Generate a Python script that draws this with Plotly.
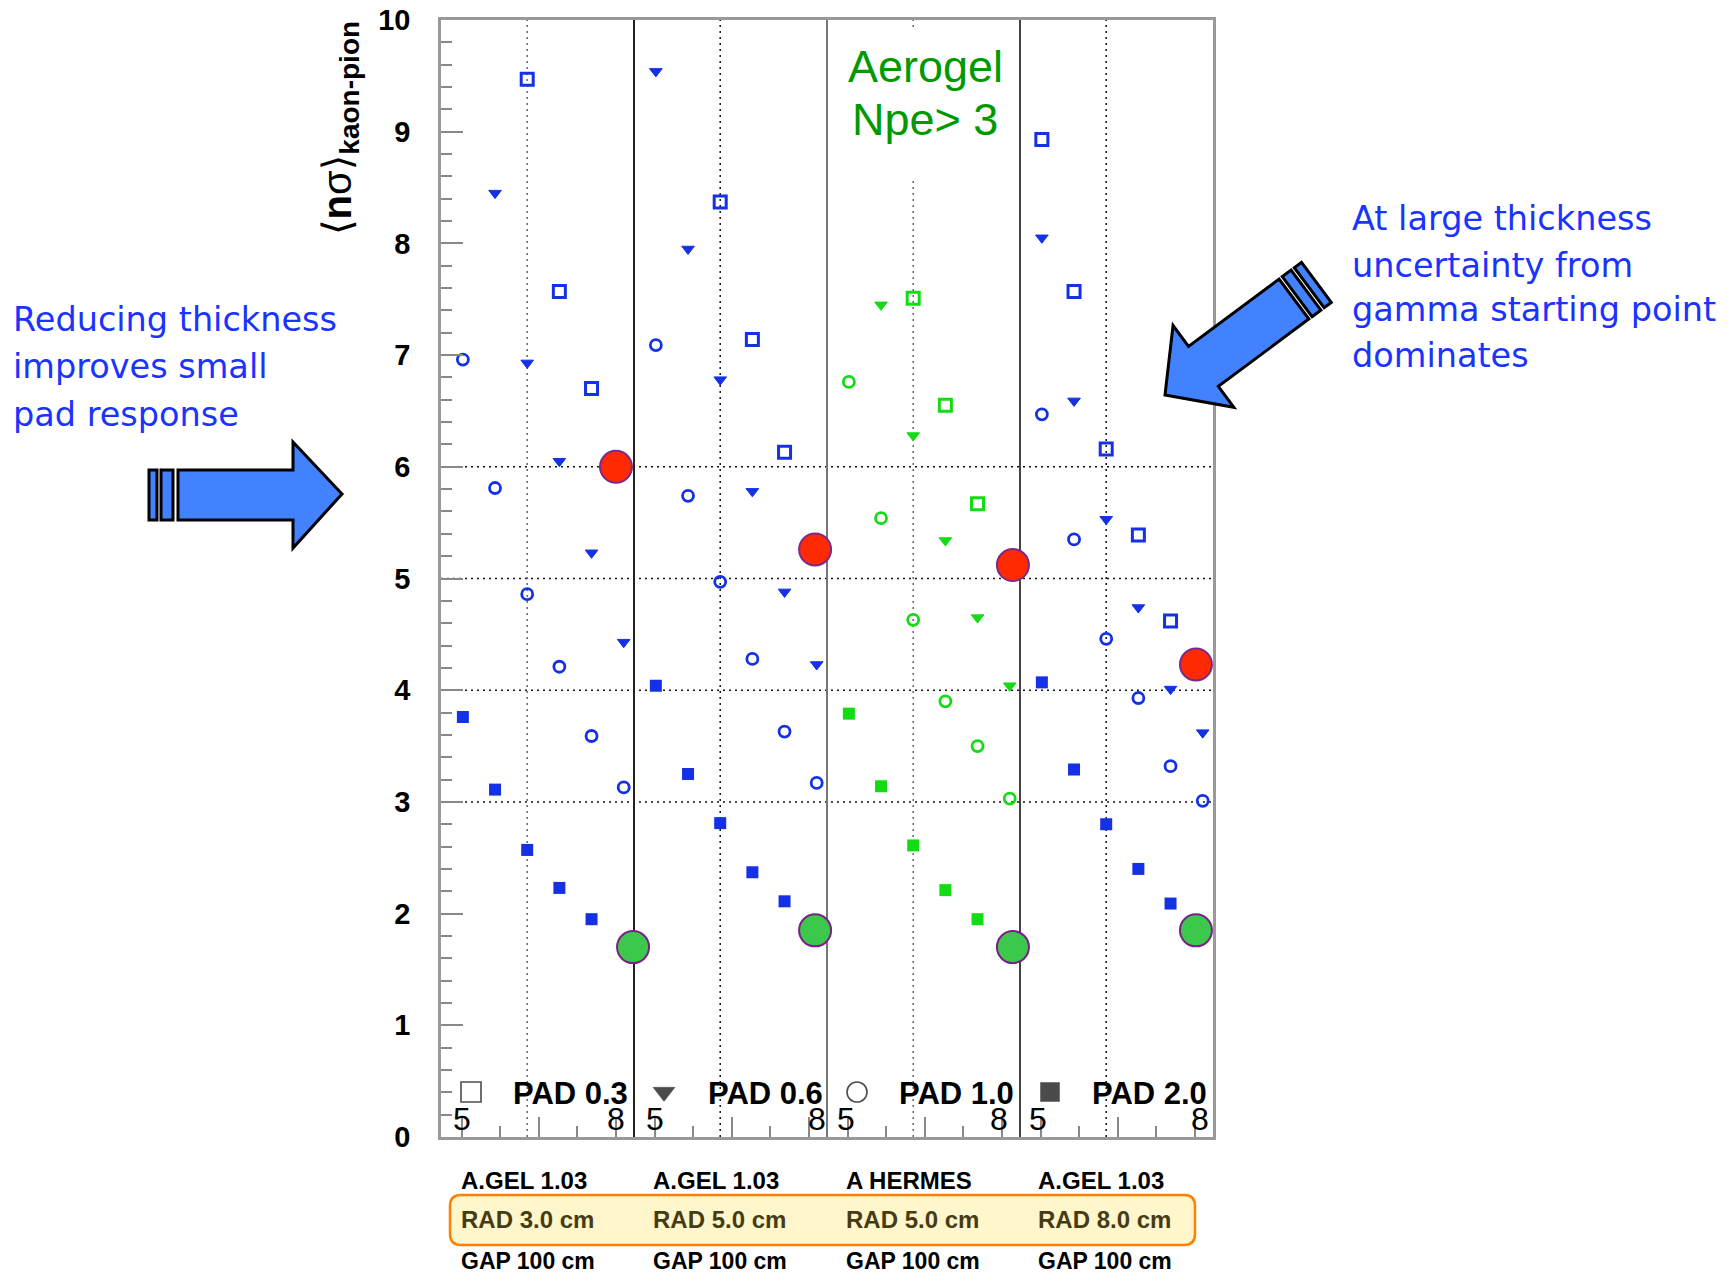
import plotly.graph_objects as go

# ---------------- data ----------------
panels = ["A.GEL 1.03 / RAD 3.0", "A.GEL 1.03 / RAD 5.0", "A HERMES / RAD 5.0", "A.GEL 1.03 / RAD 8.0"]
positions = [0, 1, 2, 3, 4, 5]          # six pad settings inside each panel

pad_03 = [[None, None, 9.47, 7.57, 6.70, None],
          [None, None, 8.37, 7.14, 6.13, None],
          [None, None, 7.51, 6.55, 5.67, None],
          [8.93, 7.57, 6.16, 5.39, 4.62, None]]
pad_06 = [[None, 8.45, 6.93, 6.05, 5.23, 4.43],
          [9.54, 7.95, 6.78, 5.78, 4.88, 4.23],
          [None, 7.45, 6.28, 5.34, 4.65, 4.04],
          [8.05, 6.59, 5.53, 4.74, 4.01, 3.62]]
pad_10 = [[6.96, 5.81, 4.86, 4.21, 3.59, 3.13],
          [7.09, 5.74, 4.97, 4.28, 3.63, 3.17],
          [6.76, 5.54, 4.63, 3.90, 3.50, 3.03],
          [6.47, 5.35, 4.46, 3.93, 3.32, 3.01]]
pad_20 = [[3.76, 3.11, 2.57, 2.23, 1.95, None],
          [4.04, 3.25, 2.81, 2.37, 2.11, None],
          [3.79, 3.14, 2.61, 2.21, 1.95, None],
          [4.07, 3.29, 2.80, 2.40, 2.09, None]]

red_pos = [4.76, 4.95, 5.10, 4.79]
red_vals = [6.00, 5.26, 5.12, 4.23]
green_pos = [5.29, 4.95, 5.10, 4.79]
green_vals = [1.70, 1.85, 1.70, 1.85]

pad_labels = ["PAD 0.3", "PAD 0.6", "PAD 1.0", "PAD 2.0"]
row_gel = ["A.GEL 1.03", "A.GEL 1.03", "A HERMES", "A.GEL 1.03"]
row_rad = ["RAD 3.0 cm", "RAD 5.0 cm", "RAD 5.0 cm", "RAD 8.0 cm"]
row_gap = ["GAP 100 cm", "GAP 100 cm", "GAP 100 cm", "GAP 100 cm"]
y_ticks = list(range(0, 11))

# ---------------- layout constants ----------------
W, H = 1730, 1275
L, R, T, B = 441, 1213, 20, 1137
PW = 6            # panel width in x units
X0 = -0.68        # left edge of the frame
ARIAL = "Liberation Sans, Arial, sans-serif"
DEJA = "DejaVu Sans, Verdana, sans-serif"
BLUE = "#1431e6"
GREEN = "#14dc14"
panel_colors = [BLUE, BLUE, GREEN, BLUE]
TXT_BLUE = "#1a33ff"


def px(x):
    return (x - L) / (R - L)


def py(y):
    return (B - y) / (B - T)


fig = go.Figure()

series = [(pad_03, "square-open", 12, 3.0), (pad_06, "triangle-down", 11, 1.0),
          (pad_10, "circle-open", 11, 2.8), (pad_20, "square", 12, 0)]
for p in range(4):
    for vals, sym, size, lw in series:
        fig.add_trace(go.Scatter(
            x=[p * PW + i for i in positions], y=vals[p], mode="markers",
            marker=dict(symbol=sym, size=size, color=panel_colors[p],
                        line=dict(width=lw, color=panel_colors[p])),
            showlegend=False, hoverinfo="y", cliponaxis=False))

fig.add_trace(go.Scatter(
    x=[p * PW + red_pos[p] for p in range(4)], y=red_vals, mode="markers",
    marker=dict(symbol="circle", size=32, color="#ff2a00", line=dict(width=2, color="#7a2a8c")),
    showlegend=False, hoverinfo="y", cliponaxis=False))
fig.add_trace(go.Scatter(
    x=[p * PW + green_pos[p] for p in range(4)], y=green_vals, mode="markers",
    marker=dict(symbol="circle", size=32, color="#3cc84b", line=dict(width=2, color="#7a1f8a")),
    showlegend=False, hoverinfo="y", cliponaxis=False))

# legend keys inside each panel
key_dx = (471 - L) / ((R - L) / 24) + X0
key_y = (B - 1092) / ((B - T) / 10)
fig.add_trace(go.Scatter(
    x=[p * PW + key_dx for p in range(4)], y=[key_y] * 4, mode="markers",
    marker=dict(symbol=["square-open", "triangle-down", "circle-open", "square"],
                size=[20, 19, 20, 19], color="black",
                line=dict(width=[1.6, 0.5, 1.6, 0.5], color=["#444", "black", "#444", "black"])),
    showlegend=False, hoverinfo="skip"))

shapes = []
# dotted horizontal lines
for v in [3, 4, 5, 6]:
    shapes.append(dict(type="line", xref="x", yref="y", x0=X0, x1=X0 + 4 * PW, y0=v, y1=v,
                       line=dict(color="#111", width=1.5, dash="2px,4px"), layer="below"))
# dotted vertical lines
vcols = ["#666", "#111", "#666", "#111"]
for p in range(4):
    shapes.append(dict(type="line", xref="x", yref="y", x0=p * PW + 2, x1=p * PW + 2, y0=0, y1=10,
                       line=dict(color=vcols[p], width=1.5, dash="2px,4px"), layer="below"))
# panel separators
scols = ["#222", "#777", "#444"]
for p in range(1, 4):
    shapes.append(dict(type="line", xref="x", yref="y", x0=p * PW + X0, x1=p * PW + X0, y0=0, y1=10,
                       line=dict(color=scols[p - 1], width=2), layer="below"))
# white box behind "Aerogel Npe> 3"
shapes.append(dict(type="rect", xref="paper", yref="paper", x0=px(832), x1=px(1016), y0=py(178), y1=py(27),
                   fillcolor="white", line=dict(width=0), layer="above"))


def poly(points):
    s = "M " + " L ".join(f"{px(a):.5f},{py(b):.5f}" for a, b in points) + " Z"
    return s


def rrect(x0, y0, x1, y1, r):
    P = lambda a, b: f"{px(a):.5f},{py(b):.5f}"
    return (f"M {P(x0 + r, y0)} L {P(x1 - r, y0)} Q {P(x1, y0)} {P(x1, y0 + r)} "
            f"L {P(x1, y1 - r)} Q {P(x1, y1)} {P(x1 - r, y1)} L {P(x0 + r, y1)} "
            f"Q {P(x0, y1)} {P(x0, y1 - r)} L {P(x0, y0 + r)} Q {P(x0, y0)} {P(x0 + r, y0)} Z")


shapes.append(dict(type="path", xref="paper", yref="paper", path=rrect(450, 1195, 1195, 1245, 11),
                   fillcolor="#fff6cc", line=dict(color="#ff8000", width=2.5), layer="below"))

AFILL = "#4282ff"
# left arrow (pointing right)
left_arrow = [(178, 470), (293, 470), (293, 442), (342, 494), (293, 548), (293, 520), (178, 520)]
shapes.append(dict(type="path", xref="paper", yref="paper", path=poly(left_arrow),
                   fillcolor=AFILL, line=dict(color="black", width=3)))
for a, b in [(149, 157), (161, 173)]:
    shapes.append(dict(type="path", xref="paper", yref="paper",
                       path=poly([(a, 470), (b, 470), (b, 520), (a, 520)]),
                       fillcolor=AFILL, line=dict(color="black", width=3)))

# right arrow (pointing down-left)
tip = (1165, 395)
d = (-0.801, 0.596)
n = (0.596, 0.801)


def pt(s, w):
    return (tip[0] - s * d[0] + w * n[0], tip[1] - s * d[1] + w * n[1])


right_arrow = [pt(0, 0), pt(48, 51), pt(48, 25), pt(161, 25), pt(161, -25), pt(48, -25), pt(48, -51)]
shapes.append(dict(type="path", xref="paper", yref="paper", path=poly(right_arrow),
                   fillcolor=AFILL, line=dict(color="black", width=3)))
for s0, s1 in [(165, 176), (180, 189)]:
    shapes.append(dict(type="path", xref="paper", yref="paper",
                       path=poly([pt(s0, 25), pt(s1, 25), pt(s1, -25), pt(s0, -25)]),
                       fillcolor=AFILL, line=dict(color="black", width=3)))

annotations = []


def ann(text, x, y, size, color="black", family=ARIAL, bold=False, xanchor="left",
        yanchor="middle", angle=0):
    annotations.append(dict(text=text, x=px(x), y=py(y), xref="paper", yref="paper",
                            showarrow=False, xanchor=xanchor, yanchor=yanchor, textangle=angle,
                            borderpad=0,
                            font=dict(family=family, size=size, color=color,
                                      weight="bold" if bold else "normal")))


# y-axis title
ann("⟨<b>n</b>σ⟩<sub><b>kaon-pion</b></sub>", 340, 128, 40, xanchor="center", angle=-90,
    family="Liberation Sans, DejaVu Sans, sans-serif")

# Aerogel label
ann("Aerogel", 925, 66, 45, color="#009900", xanchor="center")
ann("Npe> 3", 925, 119, 45, color="#009900", xanchor="center")

# per-panel labels
five_x = [462, 655, 846, 1038]
eight_x = [616, 817, 999, 1200]
pad_right = [627, 822, 1013, 1206]
col_left = [462, 654, 847, 1039]
for p in range(4):
    ann("5", five_x[p], 1119, 32, xanchor="center")
    ann("8", eight_x[p], 1119, 32, xanchor="center")
    ann(pad_labels[p], pad_right[p] + 2, 1093, 31, bold=True, xanchor="right")
    ann(row_gel[p], col_left[p] - 2, 1180, 24, bold=True)
    ann(row_rad[p], col_left[p] - 2, 1219, 24, bold=True, color="#463c14")
    ann(row_gap[p], col_left[p] - 2, 1261, 23, bold=True)

# side comments
for t, yy in zip(["Reducing thickness", "improves small", "pad response"], [320, 367, 414]):
    ann(t, 12, yy, 33.5, color=TXT_BLUE, family=DEJA)
for t, yy in zip(["At large thickness", "uncertainty from", "gamma starting point", "dominates"],
                 [218, 265, 310, 355]):
    ann(t, 1351, yy, 33.5, color=TXT_BLUE, family=DEJA)

major = [p * PW + v for p in range(4) for v in (-0.04, 2.36, 4.76)]
minor = [p * PW + v for p in range(4) for v in (1.16, 3.56)]

fig.update_layout(
    template="none",
    width=W, height=H, autosize=False,
    margin=dict(l=L, r=W - R, t=T, b=H - B, pad=0),
    paper_bgcolor="white", plot_bgcolor="white",
    showlegend=False,
    shapes=shapes, annotations=annotations,
    xaxis=dict(range=[X0, X0 + 4 * PW], showgrid=False, zeroline=False, automargin=False,
               showline=True, linecolor="#999", linewidth=2.5, mirror=True,
               tickmode="array", tickvals=major, ticks="inside", ticklen=20,
               tickcolor="#888", tickwidth=1.5, showticklabels=False,
               minor=dict(tickmode="array", tickvals=minor, ticks="inside", ticklen=11,
                          tickcolor="#888", tickwidth=1.5, showgrid=False)),
    yaxis=dict(range=[0, 10], showgrid=False, zeroline=False, automargin=False,
               showline=True, linecolor="#999", linewidth=2.5, mirror=True,
               tickmode="array", tickvals=y_ticks, ticktext=[str(v) for v in y_ticks],
               ticks="inside", ticklen=22, tickcolor="#888", tickwidth=1.5,
               ticklabelstandoff=22,
               tickfont=dict(family=ARIAL, size=29, color="black", weight="bold"),
               minor=dict(dtick=0.2, ticks="inside", ticklen=11, tickcolor="#888", tickwidth=1.5,
                          showgrid=False)),
)

fig.write_html("out.html")
